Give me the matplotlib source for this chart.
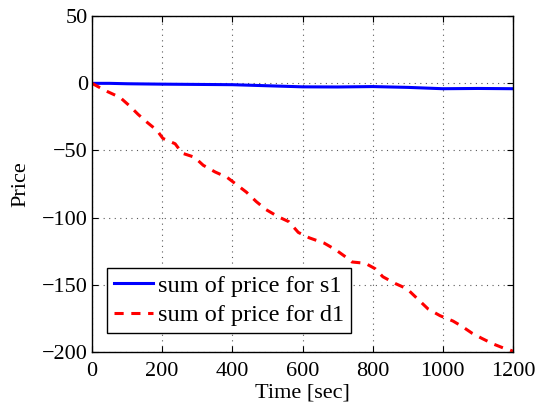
import matplotlib
matplotlib.use("Agg")
import matplotlib.pyplot as plt

t_s1 = [0, 50, 100, 200, 300, 400, 500, 600, 700, 800, 900, 1000, 1100, 1200]
price_s1 = [0, 0, -0.3, -0.6, -0.8, -1.0, -1.8, -2.6, -2.7, -2.4, -3.0, -4.0, -3.8, -4.0]

t_d1 = [0, 21, 43, 80, 108, 131, 157, 185, 202, 237, 257, 292, 317, 351, 385, 410,
        440, 468, 496, 532, 561, 588, 619, 662, 695, 727, 741, 779, 807, 829, 864,
        898, 926, 958, 992, 1029, 1055, 1083, 1112, 1143, 1172, 1186, 1200]
price_d1 = [0, -3, -6, -10.5, -17, -23, -29, -35, -41, -45, -52, -55, -61, -66, -70, -75,
            -81, -88, -94, -99.5, -103, -111, -115, -119, -124, -130, -133, -134, -138, -144, -149,
            -153, -160, -168, -173, -177, -181, -186, -190, -194, -197, -198, -199.5]

plt.rcParams['font.family'] = ['Liberation Serif', 'DejaVu Serif']

fig = plt.figure(figsize=(5.4, 4.05), dpi=100)
ax = fig.add_axes([0.1704, 0.131, 0.7796, 0.829])

ax.plot(t_s1, price_s1, color='blue', lw=2.2, label='sum of price for s1')
ax.plot(t_d1, price_d1, color='red', lw=2.2, ls=(0, (3, 2.5)), label='sum of price for d1')

ax.set_xlim(0, 1200)
ax.set_ylim(-200, 50)
ax.set_xticks(range(0, 1201, 200))
ax.set_yticks(range(-200, 51, 50))
ax.grid(True, ls=(0, (1, 4)), color='0.35', lw=0.8)
ax.tick_params(direction='in', top=True, right=True, labelsize=16, length=4)
ax.tick_params(axis='x', pad=7)
ax.tick_params(axis='y', pad=3)
for s in ax.spines.values():
    s.set_linewidth(1.0)

ax.set_xlabel('Time [sec]', fontsize=16, labelpad=2)
ax.set_ylabel('Price', fontsize=16, labelpad=8)

leg = ax.legend(loc='lower left', bbox_to_anchor=(0.035, 0.055), fontsize=17.5,
                fancybox=False, framealpha=1, edgecolor='black',
                handlelength=1.6, borderpad=0.3, labelspacing=0.3, handletextpad=0.2,
                borderaxespad=0)
leg.get_frame().set_linewidth(1.0)

fig.savefig('out.png', dpi=100)
